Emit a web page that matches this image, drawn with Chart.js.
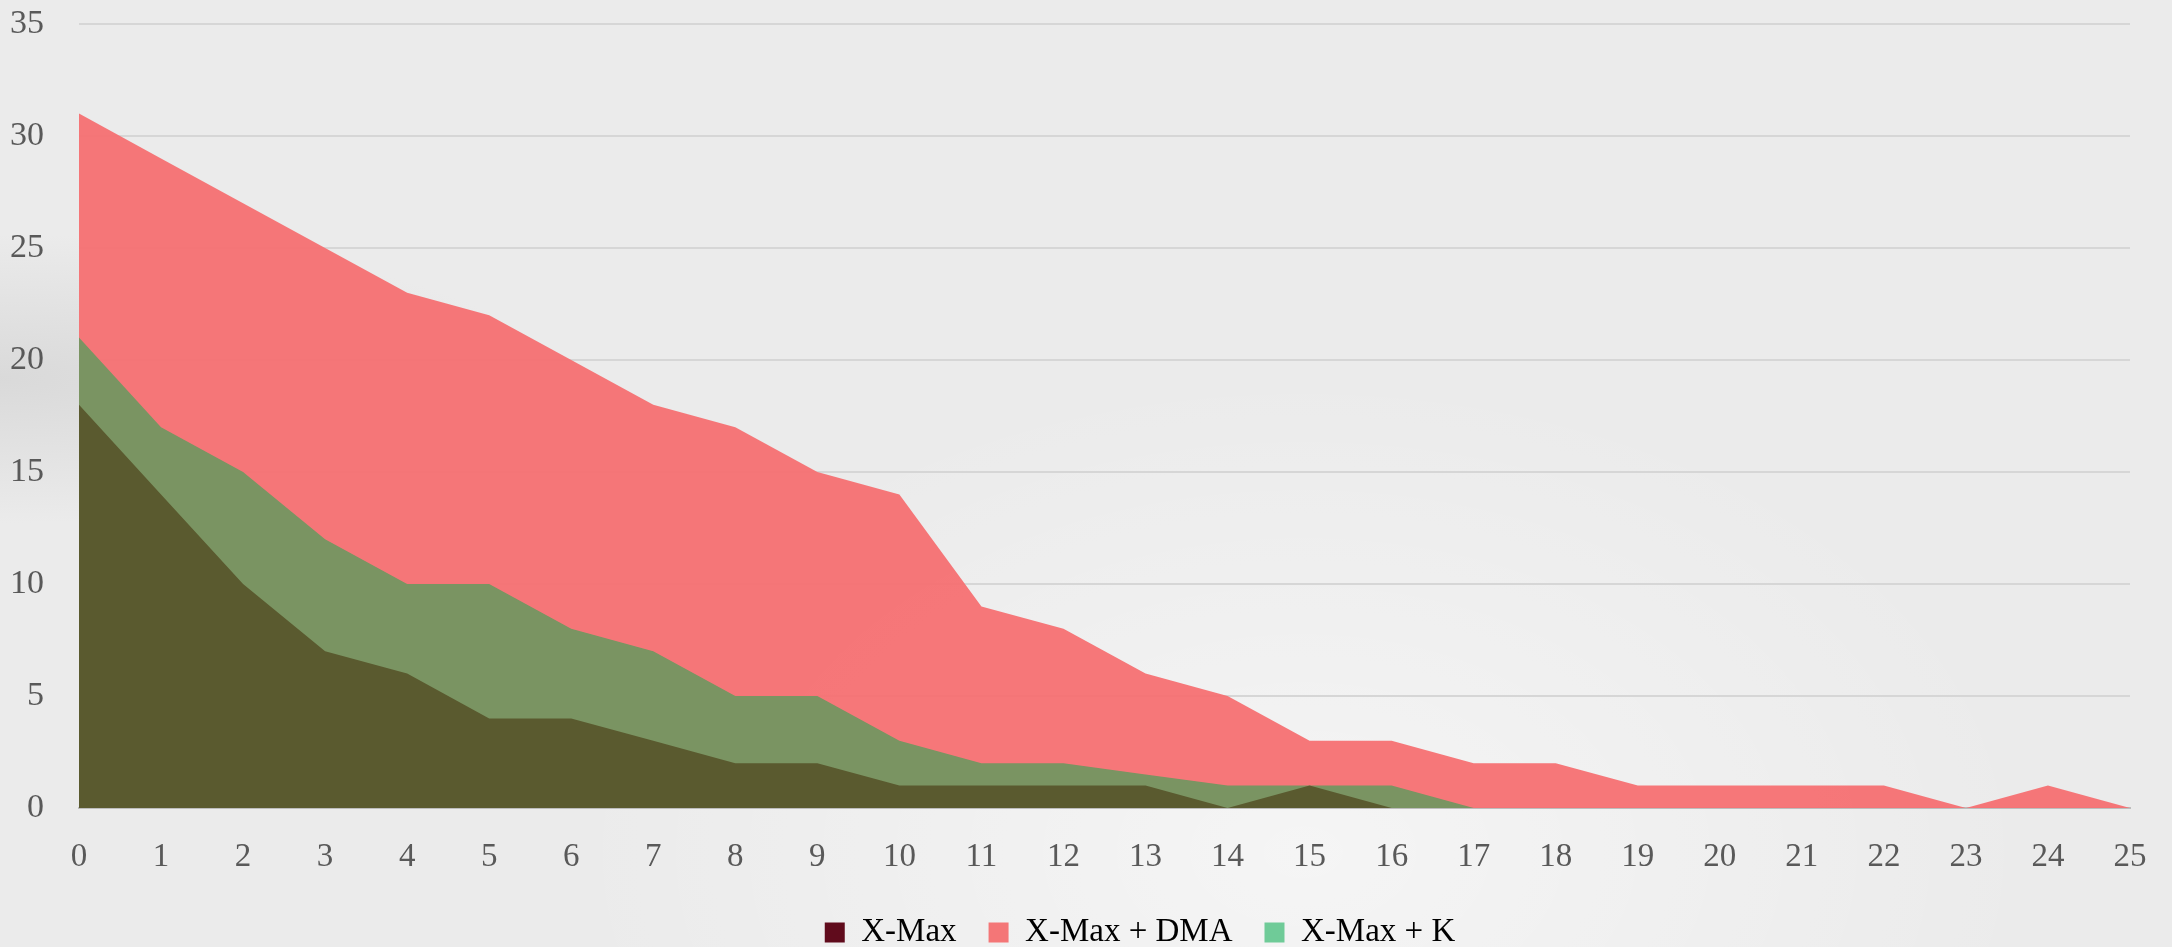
<!DOCTYPE html>
<html>
<head>
<meta charset="utf-8">
<script src="https://cdn.jsdelivr.net/npm/chart.js@4.4.1/dist/chart.umd.min.js"></script>
<style>
    html, body {
        margin: 0;
        padding: 0;
        width: 2172px;
        height: 947px;
        overflow: hidden;
        background:
            radial-gradient(ellipse at 0% 40%, rgba(200,200,200,0.5), rgba(200,200,200,0) 18%),
            radial-gradient(ellipse at 60% 90%, rgba(255,255,255,0.5), rgba(255,255,255,0) 40%),
            #ebebeb;
    }
    canvas { display: block; }
</style>
</head>
<body>
<canvas id="chart" width="2172" height="947"></canvas>
<script>
const steps = [
    "0", "1", "2", "3", "4", "5", "6", "7", "8", "9", "10", "11", "12",
    "13", "14", "15", "16", "17", "18", "19", "20", "21", "22", "23", "24", "25"
];

const xMax = [18, 14, 10, 7, 6, 4, 4, 3, 2, 2, 1, 1, 1, 1, 0, 1, 0, 0, 0, 0, 0, 0, 0, 0, 0, 0];
const xMaxDma = [31, 29, 27, 25, 23, 22, 20, 18, 17, 15, 14, 9, 8, 6, 5, 3, 3, 2, 2, 1, 1, 1, 1, 0, 1, 0];
const xMaxK = [21, 17, 15, 12, 10, 10, 8, 7, 5, 5, 3, 2, 2, 1.5, 1, 1, 1, 0, 0, 0, 0, 0, 0, 0, 0, 0];

const seriesNames = ["X-Max", "X-Max + DMA", "X-Max + K"];
const legendColors = ["#600b1c", "#f47677", "#6fcb98"];

const textColor = "#595959";
const fontFamily = "'Liberation Serif', 'DejaVu Serif', serif";

// the legend in the original sits a little right of centre
const legendShift = {
    id: "legendShift",
    afterLayout(chart) {
        chart.legend.left += 75;
        chart.legend.right += 75;
    }
};

const ctx =
    document
    .getElementById("chart")
    .getContext("2d");

new Chart(ctx, {

    type: "line",

    data: {
        labels: steps,

        datasets: [
            {
                label: seriesNames[0],
                data: xMax,
                backgroundColor: "#5a5a2f",
                borderWidth: 0,
                fill: "origin",
                order: 0
            },
            {
                label: seriesNames[1],
                data: xMaxDma,
                backgroundColor: "rgba(245, 112, 114, 0.95)",
                borderWidth: 0,
                fill: "origin",
                order: 2
            },
            {
                label: seriesNames[2],
                data: xMaxK,
                backgroundColor: "#7a9462",
                borderWidth: 0,
                fill: "origin",
                order: 1
            }
        ]
    },

    plugins: [legendShift],

    options: {
        responsive: false,
        animation: false,
        events: [],

        elements: {
            point: { radius: 0, hoverRadius: 0 },
            line: { tension: 0 }
        },

        layout: {
            autoPadding: false,
            padding: { left: 0, right: 42, top: 24, bottom: -12 }
        },

        plugins: {
            tooltip: { enabled: false },
            legend: {
                display: true,
                position: "bottom",
                labels: {
                    color: textColor,
                    font: { family: fontFamily, size: 33 },
                    boxWidth: 20,
                    boxHeight: 20,
                    padding: 32,
                    generateLabels: () => seriesNames.map((name, i) => ({
                        text: name,
                        fillStyle: legendColors[i],
                        strokeStyle: legendColors[i],
                        lineWidth: 0,
                        hidden: false,
                        datasetIndex: i
                    }))
                }
            }
        },

        scales: {

            x: {
                offset: false,
                grid: { display: false },
                border: { display: true, color: "#bdbdbd", width: 2 },
                ticks: {
                    color: textColor,
                    font: { family: fontFamily, size: 33 },
                    padding: 22,
                    maxRotation: 0,
                    autoSkip: false
                },
                afterFit: (scale) => {
                    scale.height = 76;
                }
            },

            y: {
                min: 0,
                max: 35,
                grid: {
                    color: "#d6d6d6",
                    lineWidth: 2,
                    drawTicks: false
                },
                border: { display: false },
                ticks: {
                    stepSize: 5,
                    color: textColor,
                    font: { family: fontFamily, size: 34 },
                    padding: 35
                },
                afterFit: (scale) => {
                    scale.width = 79;
                    scale.paddingTop = 0;
                    scale.paddingBottom = 0;
                }
            }

        }
    }

});
</script>
</body>
</html>
